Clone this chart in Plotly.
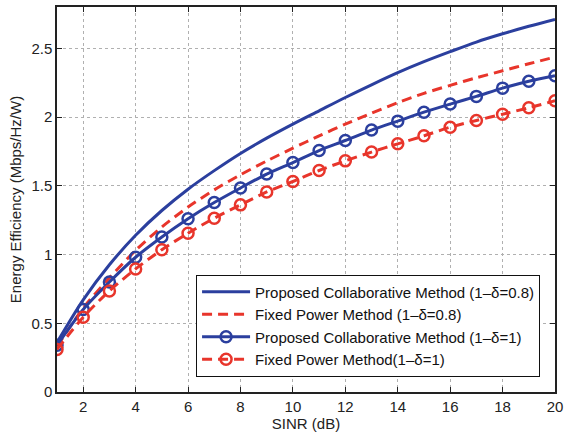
import plotly.graph_objects as go

sinr_db = list(range(1, 21))

proposed_08 = [0.36, 0.67, 0.925, 1.14, 1.32, 1.475, 1.61, 1.735, 1.846, 1.948,
               2.045, 2.142, 2.234, 2.322, 2.402, 2.475, 2.545, 2.605, 2.66, 2.71]
fixed_08 = [0.33, 0.61, 0.83, 1.03, 1.20, 1.345, 1.47, 1.58, 1.68, 1.773,
            1.863, 1.948, 2.028, 2.104, 2.172, 2.23, 2.285, 2.336, 2.387, 2.436]
proposed_1 = [0.34, 0.60, 0.80, 0.98, 1.127, 1.26, 1.378, 1.484, 1.585, 1.669,
              1.756, 1.829, 1.905, 1.970, 2.035, 2.094, 2.15, 2.21, 2.26, 2.30]
fixed_1 = [0.31, 0.544, 0.735, 0.895, 1.035, 1.155, 1.264, 1.361, 1.455, 1.531,
           1.611, 1.681, 1.745, 1.805, 1.863, 1.926, 1.975, 2.02, 2.067, 2.118]

names = [
    "Proposed Collaborative Method (1–δ=0.8)",
    "Fixed Power Method (1–δ=0.8)",
    "Proposed Collaborative Method (1–δ=1)",
    "Fixed Power Method(1–δ=1)",
]
x_ticks = [2, 4, 6, 8, 10, 12, 14, 16, 18, 20]
y_ticks = [0, 0.5, 1, 1.5, 2, 2.5]
y_tick_text = ["0", "0.5", "1", "1.5", "2", "2.5"]

BLUE = "#2b3f9e"
RED = "#e8352b"
FONT = "Liberation Sans, Arial, sans-serif"

fig = go.Figure()
fig.add_trace(go.Scatter(x=sinr_db, y=proposed_08, mode="lines", name=names[0],
                         line=dict(color=BLUE, width=3, shape="spline", smoothing=0.8)))
fig.add_trace(go.Scatter(x=sinr_db, y=fixed_08, mode="lines", name=names[1],
                         line=dict(color=RED, width=3, dash="10px,6px", shape="spline", smoothing=0.8)))
fig.add_trace(go.Scatter(x=sinr_db, y=proposed_1, mode="lines+markers", name=names[2],
                         line=dict(color=BLUE, width=3, shape="spline", smoothing=0.8),
                         marker=dict(symbol="circle-open", size=11, color=BLUE,
                                     line=dict(width=2.5, color=BLUE))))
fig.add_trace(go.Scatter(x=sinr_db, y=fixed_1, mode="lines+markers", name=names[3],
                         line=dict(color=RED, width=3, dash="10px,6px", shape="spline", smoothing=0.8),
                         marker=dict(symbol="circle-open", size=11, color=RED,
                                     line=dict(width=2.5, color=RED))))

axis_common = dict(
    showline=True, linecolor="#222222", linewidth=1.5, mirror="allticks",
    ticks="inside", ticklen=5, tickcolor="#222222", tickwidth=1,
    showgrid=True, gridcolor="#b0b0b0", griddash="dot", gridwidth=1,
    zeroline=False, automargin=False,
    tickfont=dict(family=FONT, size=15, color="#222222"),
)

fig.update_xaxes(range=[1, 20], tickvals=x_ticks,
                 title=dict(text="SINR (dB)", standoff=4,
                            font=dict(family=FONT, size=15, color="#222222")),
                 **axis_common)
fig.update_yaxes(range=[0, 2.8], tickvals=y_ticks, ticktext=y_tick_text,
                 title=dict(text="Energy Efficiency (Mbps/Hz/W)", standoff=6,
                            font=dict(family=FONT, size=15, color="#222222")),
                 **axis_common)

fig.update_layout(
    width=564, height=433,
    margin=dict(l=57, r=9, t=7, b=41),
    plot_bgcolor="white", paper_bgcolor="white",
    showlegend=True,
    legend=dict(x=0.97, y=0.04, xanchor="right", yanchor="bottom",
                bgcolor="white", bordercolor="#111111", borderwidth=1,
                font=dict(family=FONT, size=15, color="#111111"),
                tracegroupgap=0, itemwidth=48),
)

fig.write_html("out.html")
